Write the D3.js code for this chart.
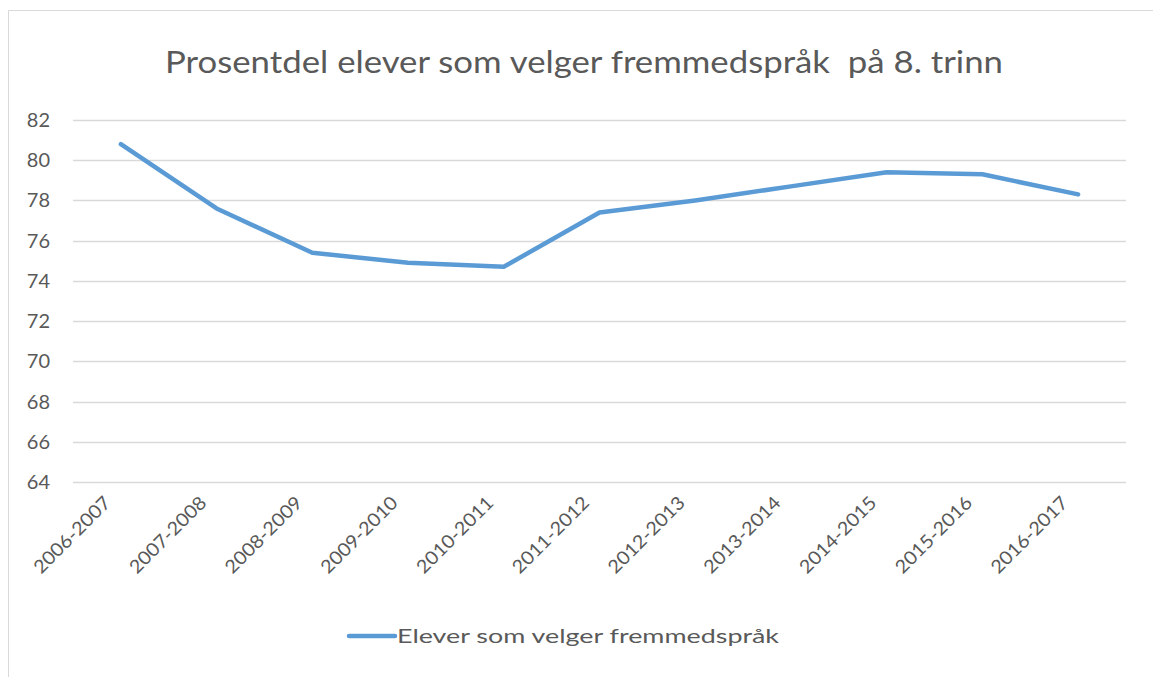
<!DOCTYPE html>
<html>
<head>
<meta charset="utf-8">
<script src="https://cdn.jsdelivr.net/npm/d3@7"></script>
<style>
  body { margin: 0; background: #fff; }
  text { font-family: Lato, "Open Sans", sans-serif; fill: #595959; }
</style>
</head>
<body>
<svg id="canvas" width="1153" height="677"></svg>
<script>
var width = 1153;
var height = 677;

// data
var years = ["2006-2007", "2007-2008", "2008-2009", "2009-2010", "2010-2011", "2011-2012",
  "2012-2013", "2013-2014", "2014-2015", "2015-2016", "2016-2017"];
var values = [80.8, 77.6, 75.4, 74.9, 74.7, 77.4, 78.0, 78.7, 79.4, 79.3, 78.3];
var yTicks = [64, 66, 68, 70, 72, 74, 76, 78, 80, 82];
var title = "Prosentdel elever som velger fremmedspråk  på 8. trinn";
var seriesName = "Elever som velger fremmedspråk";

var svg = d3.select("#canvas");

// chart frame
svg.append("path")
  .attr("d", "M8.5,677 V10.5 H1153")
  .attr("fill", "none")
  .attr("stroke", "#d9d9d9");

var xScale = d3.scaleBand()
  .domain(years)
  .range([73, 1126]);

var yScale = d3.scaleLinear()
  .domain([64, 82])
  .range([482, 120]);

// gridlines
svg.append("g")
  .selectAll("line")
  .data(yTicks)
  .enter().append("line")
  .attr("x1", 73)
  .attr("x2", 1126)
  .attr("y1", function(d) { return Math.round(yScale(d)) + 0.5; })
  .attr("y2", function(d) { return Math.round(yScale(d)) + 0.5; })
  .attr("stroke", "#d9d9d9")
  .attr("stroke-width", 1.3);

// y labels
svg.append("g")
  .selectAll("text")
  .data(yTicks)
  .enter().append("text")
  .attr("x", 50)
  .attr("y", function(d) { return yScale(d); })
  .attr("dy", "0.35em")
  .attr("text-anchor", "end")
  .style("font-size", "20px")
  .text(function(d) { return d; });

// x labels
svg.append("g")
  .selectAll("text")
  .data(years)
  .enter().append("text")
  .attr("text-anchor", "end")
  .attr("textLength", 100)
  .attr("lengthAdjust", "spacingAndGlyphs")
  .attr("transform", function(d) {
    var x = xScale(d) + xScale.bandwidth() / 2 - 9;
    return "translate(" + x + ",504) rotate(-45)";
  })
  .style("font-size", "18.5px")
  .text(function(d) { return d; });

// line
var line = d3.line()
  .x(function(d, i) { return xScale(years[i]) + xScale.bandwidth() / 2; })
  .y(function(d) { return yScale(d); });

svg.append("path")
  .datum(values)
  .attr("d", line)
  .attr("fill", "none")
  .attr("stroke", "#5b9bd5")
  .attr("stroke-width", 4.5)
  .attr("stroke-linecap", "round")
  .attr("stroke-linejoin", "round");

// title
svg.append("text")
  .attr("x", 584)
  .attr("y", 73)
  .attr("text-anchor", "middle")
  .attr("textLength", 838)
  .attr("lengthAdjust", "spacingAndGlyphs")
  .style("font-size", "31px")
  .style("white-space", "pre")
  .text(title);

// legend
svg.append("line")
  .attr("x1", 349).attr("x2", 395)
  .attr("y1", 636).attr("y2", 636)
  .attr("stroke", "#5b9bd5")
  .attr("stroke-width", 4.5)
  .attr("stroke-linecap", "round");

svg.append("text")
  .attr("x", 397)
  .attr("y", 636)
  .attr("dy", "0.35em")
  .attr("textLength", 382)
  .attr("lengthAdjust", "spacingAndGlyphs")
  .style("font-size", "20px")
  .text(seriesName);
</script>
</body>
</html>
